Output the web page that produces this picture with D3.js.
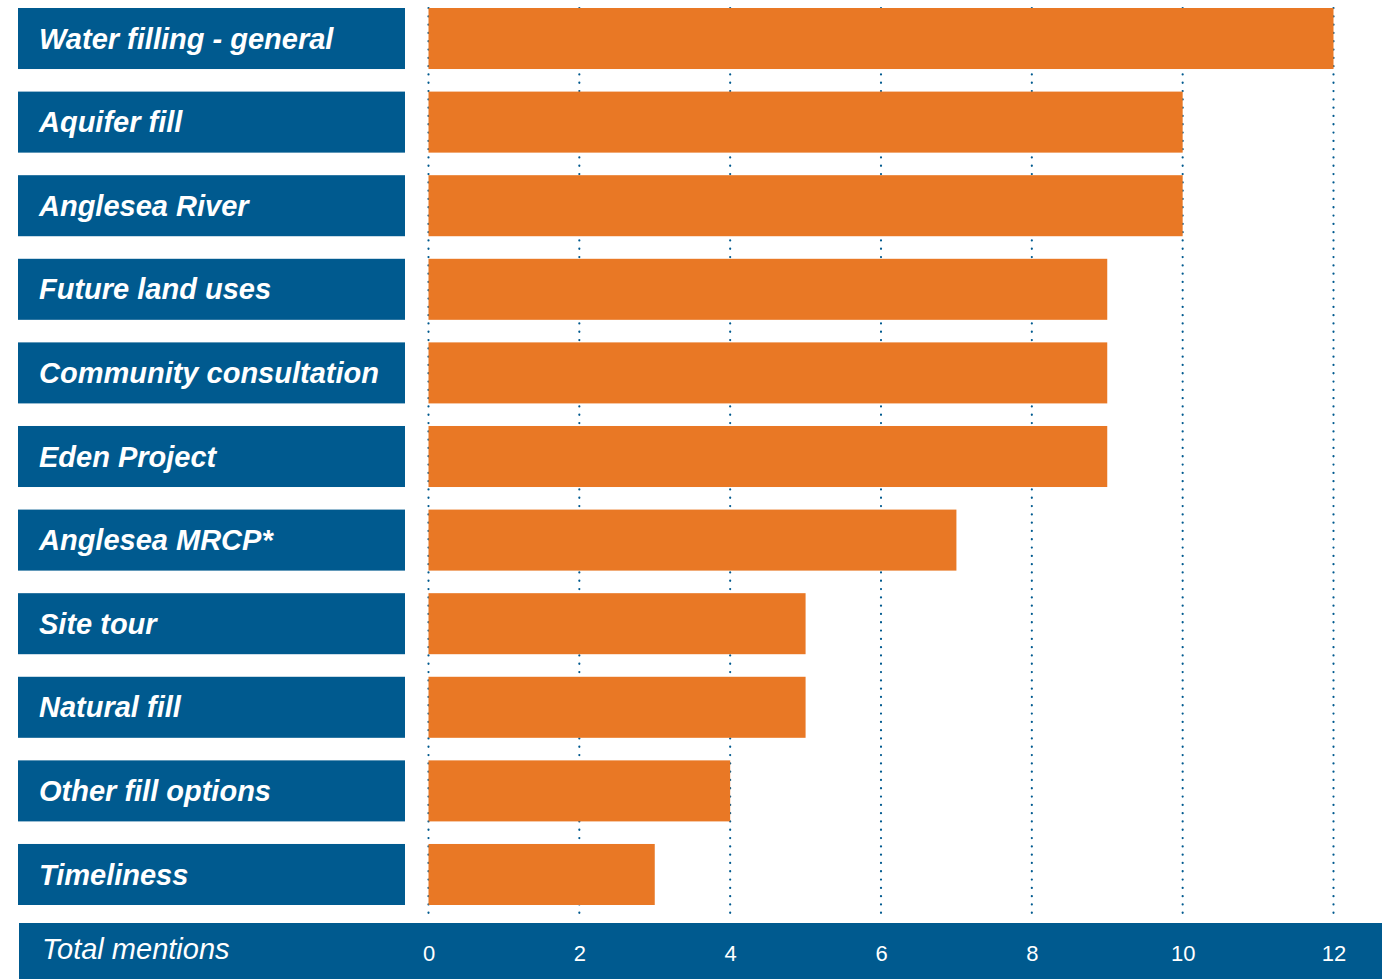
<!DOCTYPE html>
<html>
<head>
<meta charset="utf-8">
<script src="https://cdn.jsdelivr.net/npm/d3@7"></script>
<style>
  body { margin: 0; background: #fff; }
  svg { display: block; }
</style>
</head>
<body>
<div id="chart"></div>
<script>
// chart data
var categories = ["Water filling - general", "Aquifer fill", "Anglesea River", "Future land uses",
  "Community consultation", "Eden Project", "Anglesea MRCP*", "Site tour", "Natural fill",
  "Other fill options", "Timeliness"];
var mentions = [12, 10, 10, 9, 9, 9, 7, 5, 5, 4, 3];
var tickValues = [0, 2, 4, 6, 8, 10, 12];
var axisTitle = "Total mentions";

var blue = "#005a8f", orange = "#e97825";
var width = 1382, height = 979;

var svg = d3.select("#chart")
  .append("svg")
    .attr("width", width)
    .attr("height", height);

var xScale = d3.scaleLinear()
  .domain([0, 12])
  .range([428.5, 1333.5]);

var yScale = d3.scaleBand()
  .domain(categories)
  .range([8, 905])
  .paddingInner(0.27)
  .paddingOuter(0);

// dotted grid lines
svg.append("g")
  .selectAll("line")
  .data(tickValues)
  .enter().append("line")
    .attr("x1", function(d) { return xScale(d); })
    .attr("x2", function(d) { return xScale(d); })
    .attr("y1", 8)
    .attr("y2", 918)
    .attr("stroke", blue)
    .attr("stroke-width", 2.2)
    .attr("stroke-linecap", "round")
    .attr("stroke-dasharray", "0.1 8.2");

// bars
svg.append("g")
  .selectAll("rect")
  .data(mentions)
  .enter().append("rect")
    .attr("x", xScale(0))
    .attr("y", function(d, i) { return yScale(categories[i]); })
    .attr("width", function(d) { return xScale(d) - xScale(0); })
    .attr("height", yScale.bandwidth())
    .attr("fill", orange);

// label boxes
var labels = svg.append("g")
  .selectAll("g")
  .data(categories)
  .enter().append("g")
    .attr("transform", function(d) { return "translate(0," + yScale(d) + ")"; });

labels.append("rect")
  .attr("x", 18)
  .attr("width", 387)
  .attr("height", yScale.bandwidth())
  .attr("fill", blue);

labels.append("text")
  .attr("x", 39)
  .attr("y", yScale.bandwidth() / 2)
  .attr("dy", "0.35em")
  .attr("fill", "#fff")
  .style("font-family", "Liberation Sans, Arial, sans-serif")
  .style("font-weight", "bold")
  .style("font-style", "italic")
  .style("font-size", "29px")
  .text(function(d) { return d; });

// bottom axis band
svg.append("rect")
  .attr("x", 19)
  .attr("y", 923)
  .attr("width", width - 19)
  .attr("height", height - 923)
  .attr("fill", blue);

svg.append("text")
  .attr("x", 42)
  .attr("y", 959)
  .attr("fill", "#fff")
  .style("font-family", "Liberation Sans, Arial, sans-serif")
  .style("font-style", "italic")
  .style("font-size", "29px")
  .text(axisTitle);

var axis = svg.append("g")
  .attr("transform", "translate(0,953)")
  .call(d3.axisBottom(xScale).tickValues(tickValues).tickSize(0).tickPadding(0));
axis.select(".domain").remove();
axis.selectAll("text")
  .attr("y", 0)
  .attr("dy", "0.35em")
  .attr("fill", "#fff")
  .style("font-family", "Liberation Sans, Arial, sans-serif")
  .style("font-size", "22px");
</script>
</body>
</html>
